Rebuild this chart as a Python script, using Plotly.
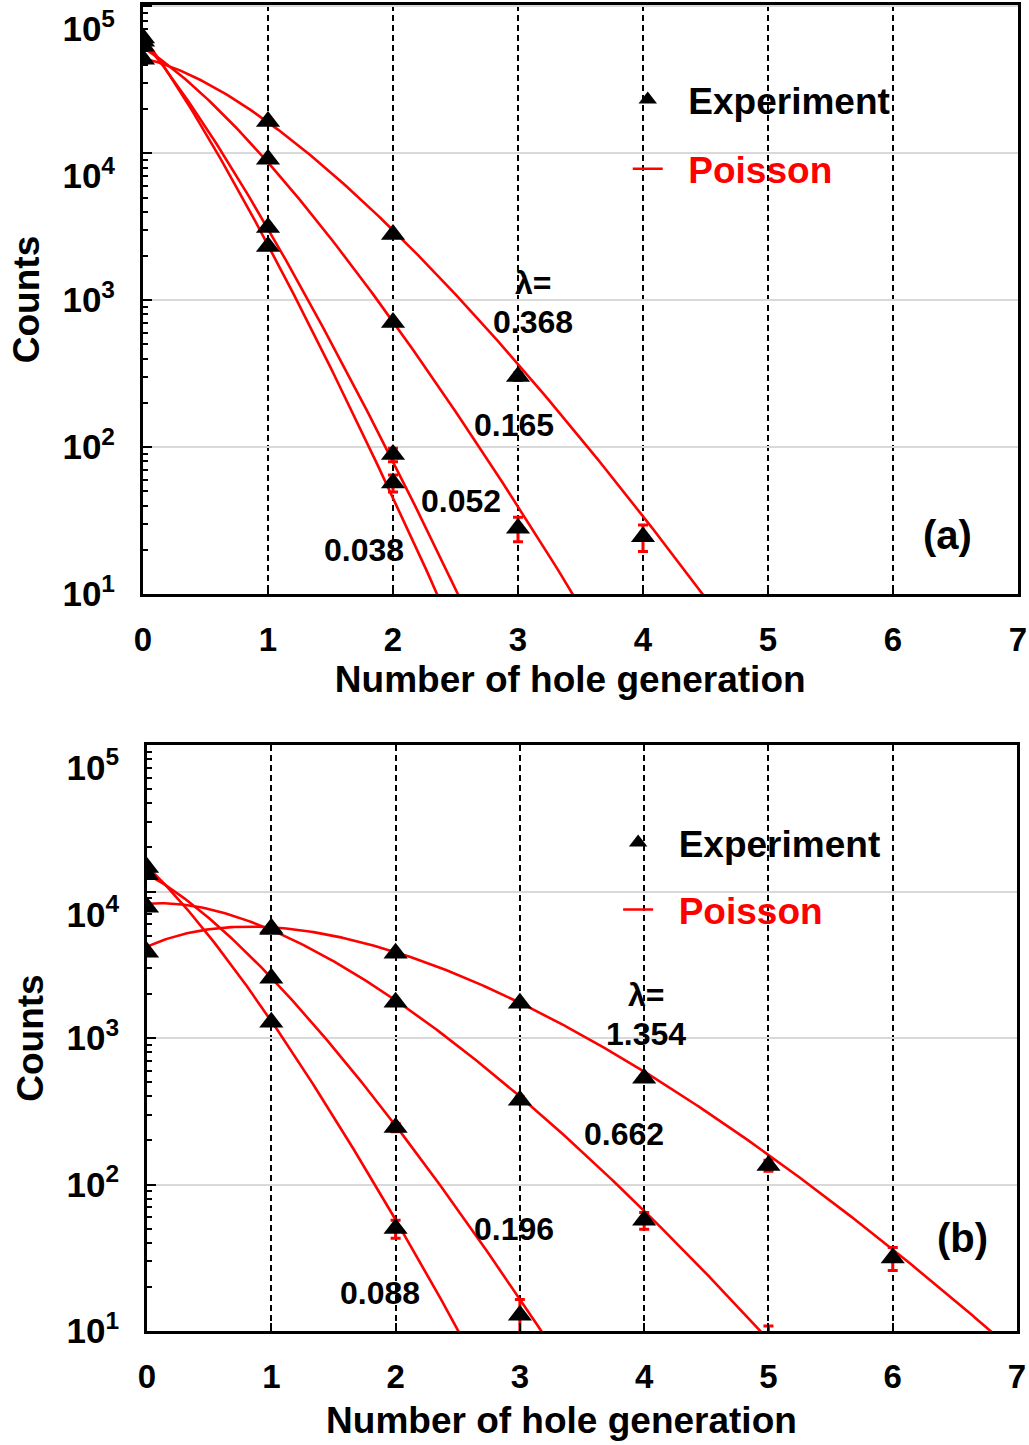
import math
import numpy as np
import plotly.graph_objects as go

# ---------------- data ----------------
x_ticks = [0, 1, 2, 3, 4, 5, 6, 7]
y_tickvals = [10, 100, 1000, 10000, 100000]
y_ticktext = ["10<sup>1</sup>", "10<sup>2</sup>", "10<sup>3</sup>",
              "<br>10<sup>4</sup>", "<br>10<sup>5</sup>"]

# panel (a): Poisson parameters and totals
lam_a = [0.368, 0.165, 0.052, 0.038]
total_a = [64000, 62000, 62000, 65000]
# panel (a): experiment counts (index = number of hole generation)
exp_a_0368 = [43800, 16500, 2800, 302, 24.5]
exp_a_0165 = [53600, 9100, 705, 28]
exp_a_0052 = [58000, 3130, 89]
exp_a_0038 = [61000, 2320, 57]
err_a_0368 = [209, 128, 53, 17.4, 5.0]
err_a_0165 = [232, 95, 26.6, 5.3]
err_a_0052 = [241, 56, 9.4]
err_a_0038 = [247, 48, 7.5]

# panel (b)
lam_b = [1.354, 0.662, 0.196, 0.088]
total_b = [16300, 16000, 16000, 16200]
exp_b_1354 = [3850, 5610, 3790, 1725, 531, 135, 31.5]
exp_b_0662 = [7800, 5500, 1755, 376, 57, 8]
exp_b_0196 = [13000, 2560, 245, 12.8]
exp_b_0088 = [14600, 1280, 50]
err_b_1354 = [62, 75, 62, 42, 23, 11.6, 5.6]
err_b_0662 = [88, 74, 42, 19, 7.5, 2.83]
err_b_0196 = [114, 51, 15.7, 3.6]
err_b_0088 = [121, 36, 7.1]

lam_labels_a = ["0.368", "0.165", "0.052", "0.038"]
lam_labels_b = ["1.354", "0.662", "0.196", "0.088"]

# ---------------- helpers ----------------
FONT = "Liberation Sans, Arial, sans-serif"
RED = "#ff0000"
xs_curve = np.linspace(0, 7, 351)


def poisson_curve(lam, n, xs):
    return [n * math.exp(-lam + x * math.log(lam) - math.lgamma(x + 1)) for x in xs]


fig = go.Figure()

panels = [
    ("x", "y", "legend", lam_a, total_a,
     [exp_a_0368, exp_a_0165, exp_a_0052, exp_a_0038],
     [err_a_0368, err_a_0165, err_a_0052, err_a_0038]),
    ("x2", "y2", "legend2", lam_b, total_b,
     [exp_b_1354, exp_b_0662, exp_b_0196, exp_b_0088],
     [err_b_1354, err_b_0662, err_b_0196, err_b_0088]),
]

for xa, ya, leg, lams, tots, exps, errs in panels:
    # Poisson curves
    for i, (lam, n) in enumerate(zip(lams, tots)):
        fig.add_trace(go.Scatter(
            x=xs_curve, y=poisson_curve(lam, n, xs_curve), mode="lines",
            line=dict(color=RED, width=2.6), xaxis=xa, yaxis=ya,
            name="<span style='color:#ff0000'>\u00a0\u00a0Poisson</span>",
            legend=leg, legendgroup="poi" + xa, legendrank=2,
            showlegend=(i == 0), hoverinfo="skip"))
    # experiment points
    for i, (ev, er) in enumerate(zip(exps, errs)):
        fig.add_trace(go.Scatter(
            x=list(range(len(ev))), y=ev, mode="markers",
            marker=dict(symbol="triangle-up", size=21, color="black", line=dict(width=0)),
            error_y=dict(type="data", array=er, color=RED, thickness=3, width=5, visible=True),
            xaxis=xa, yaxis=ya, name="\u00a0\u00a0Experiment",
            legend=leg, legendgroup="exp" + xa, legendrank=1,
            showlegend=(i == 0)))

xtick_font = dict(family=FONT, size=33, color="black", weight="bold")
ytick_font = dict(family=FONT, size=35, color="black", weight="bold")
title_font = dict(family=FONT, size=37, color="black", weight="bold")

xaxis_common = dict(
    range=[0, 7], tickmode="array", tickvals=x_ticks,
    showline=True, linecolor="black", linewidth=3, mirror=True,
    ticks="inside", ticklen=8, tickwidth=2, tickcolor="black",
    showgrid=True, gridcolor="black", gridwidth=1.5, griddash="6px,4px",
    zeroline=False, tickfont=xtick_font, ticklabelstandoff=14, automargin=False,
)
yaxis_common = dict(
    type="log", tickmode="array", tickvals=y_tickvals, ticktext=y_ticktext,
    showline=True, linecolor="black", linewidth=3, mirror=True,
    ticks="inside", ticklen=9, tickwidth=2, tickcolor="black",
    minor=dict(ticks="inside", ticklen=5, tickwidth=2, tickcolor="black", dtick="D1", showgrid=False),
    showgrid=True, gridcolor="#d9d9d9", gridwidth=2, zeroline=False,
    tickfont=ytick_font, ticklabelstandoff=18, automargin=False,
    title=dict(text="Counts", font=title_font, standoff=12),
)

fig.update_layout(
    width=1029, height=1445,
    margin=dict(l=143, r=11, t=5, b=114, autoexpand=False),
    paper_bgcolor="white", plot_bgcolor="white",
    font=dict(family=FONT, color="black"),
    showlegend=True,
    xaxis=dict(xaxis_common, domain=[0.0, 1.0], anchor="y",
               title=dict(text="Number of hole generation\u00a0\u00a0\u200b", font=title_font, standoff=10)),
    yaxis=dict(yaxis_common, domain=[0.5558, 1.0], anchor="x", range=[1, 5.01]),
    xaxis2=dict(xaxis_common, domain=[0.0046, 0.9989], anchor="y2",
                title=dict(text="Number of hole generation\u00a0\u00a0\u00a0\u00a0\u200b", font=title_font, standoff=14)),
    yaxis2=dict(yaxis_common, domain=[0.0, 0.4419], anchor="x2", range=[1, 5.0]),
    legend=dict(x=0.554, y=0.9517, xanchor="left", yanchor="top",
                bgcolor="rgba(0,0,0,0)", borderwidth=0,
                font=dict(family=FONT, size=37, color="black", weight="bold"),
                traceorder="grouped", tracegroupgap=18, itemwidth=30),
    legend2=dict(x=0.543, y=0.3915, xanchor="left", yanchor="top",
                 bgcolor="rgba(0,0,0,0)", borderwidth=0,
                 font=dict(family=FONT, size=37, color="black", weight="bold"),
                 traceorder="grouped", tracegroupgap=16, itemwidth=30),
)

ann_font = dict(family=FONT, size=32, color="black", weight="bold")
label_font = dict(family=FONT, size=40, color="black", weight="bold")
annotations = [
    # panel (a)
    dict(x=3.118, y=3.12, xref="x", yref="y", text="λ="),
    dict(x=3.118, y=2.854, xref="x", yref="y", text=lam_labels_a[0]),
    dict(x=2.966, y=2.152, xref="x", yref="y", text=lam_labels_a[1]),
    dict(x=2.542, y=1.634, xref="x", yref="y", text=lam_labels_a[2]),
    dict(x=1.766, y=1.30, xref="x", yref="y", text=lam_labels_a[3]),
    dict(x=6.438, y=1.402, xref="x", yref="y", text="(a)", font=label_font),
    # panel (b)
    dict(x=4.014, y=3.292, xref="x2", yref="y2", text="λ="),
    dict(x=4.014, y=3.026, xref="x2", yref="y2", text=lam_labels_b[0]),
    dict(x=3.837, y=2.344, xref="x2", yref="y2", text=lam_labels_b[1]),
    dict(x=2.953, y=1.696, xref="x2", yref="y2", text=lam_labels_b[2]),
    dict(x=1.874, y=1.259, xref="x2", yref="y2", text=lam_labels_b[3]),
    dict(x=6.565, y=1.634, xref="x2", yref="y2", text="(b)", font=label_font),
]
for a in annotations:
    a.setdefault("font", ann_font)
    a.update(showarrow=False, xanchor="center", yanchor="middle")
fig.update_layout(annotations=annotations)

fig.write_html("out.html")
